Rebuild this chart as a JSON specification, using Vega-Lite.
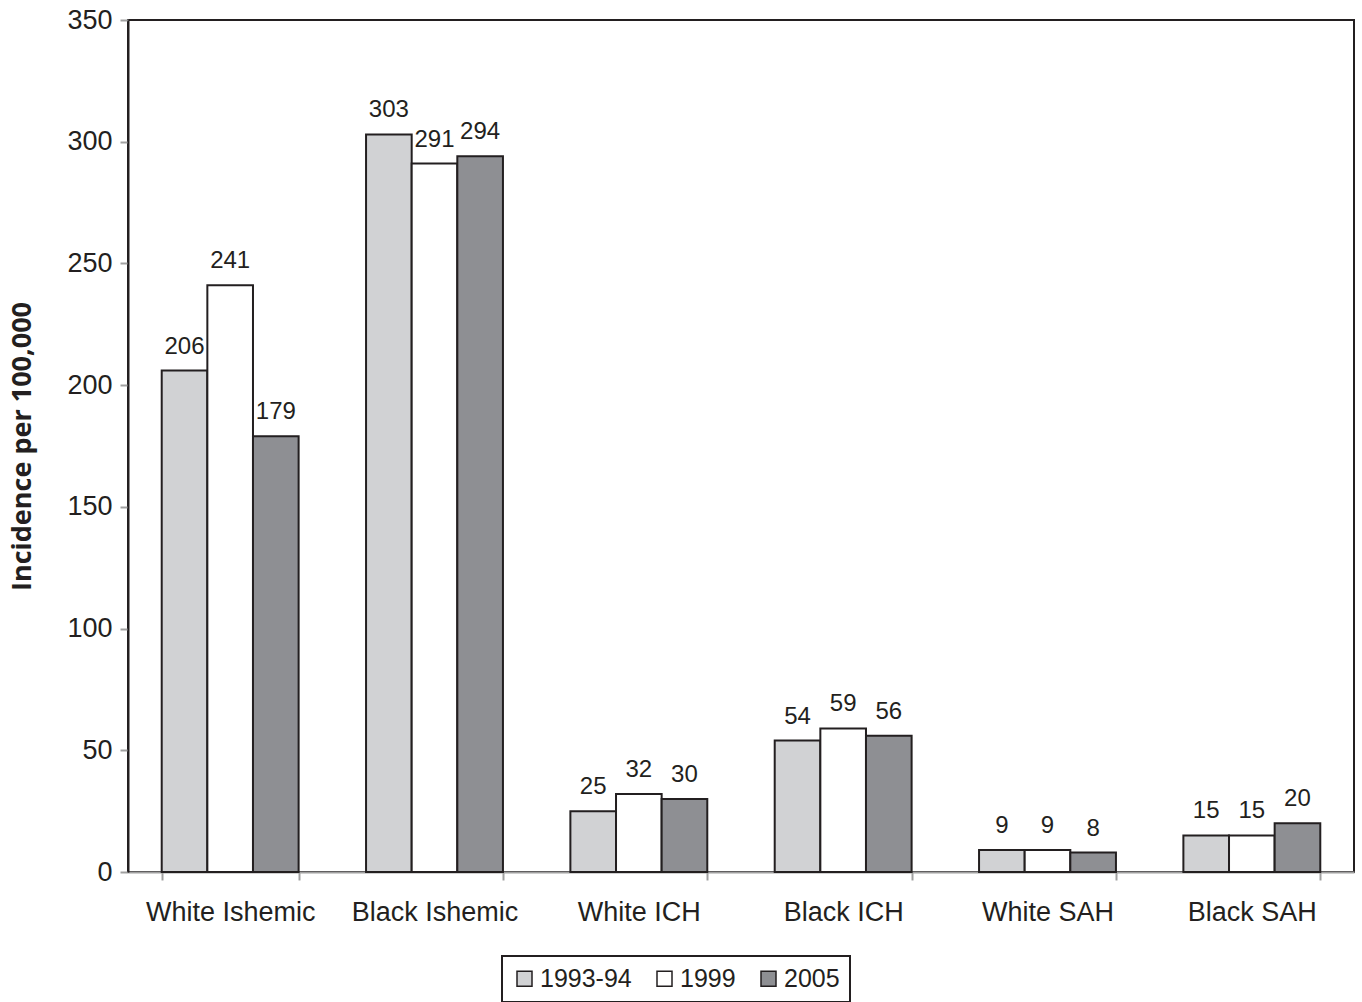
{
  "$schema": "https://vega.github.io/schema/vega-lite/v6.json",
  "width": 1226,
  "height": 852,
  "autosize": {"type": "none"},
  "padding": {"left": 128, "top": 20, "right": 8, "bottom": 130},
  "background": "white",
  "config": {
    "view": {"stroke": "#231f20", "strokeWidth": 2},
    "font": "Liberation Sans"
  },
  "data": {
    "values": [
      {"cat": "White Ishemic", "year": "1993-94", "v": 206},
      {"cat": "White Ishemic", "year": "1999", "v": 241},
      {"cat": "White Ishemic", "year": "2005", "v": 179},
      {"cat": "Black Ishemic", "year": "1993-94", "v": 303},
      {"cat": "Black Ishemic", "year": "1999", "v": 291},
      {"cat": "Black Ishemic", "year": "2005", "v": 294},
      {"cat": "White ICH", "year": "1993-94", "v": 25},
      {"cat": "White ICH", "year": "1999", "v": 32},
      {"cat": "White ICH", "year": "2005", "v": 30},
      {"cat": "Black ICH", "year": "1993-94", "v": 54},
      {"cat": "Black ICH", "year": "1999", "v": 59},
      {"cat": "Black ICH", "year": "2005", "v": 56},
      {"cat": "White SAH", "year": "1993-94", "v": 9},
      {"cat": "White SAH", "year": "1999", "v": 9},
      {"cat": "White SAH", "year": "2005", "v": 8},
      {"cat": "Black SAH", "year": "1993-94", "v": 15},
      {"cat": "Black SAH", "year": "1999", "v": 15},
      {"cat": "Black SAH", "year": "2005", "v": 20}
    ]
  },
  "encoding": {
    "x": {
      "field": "cat", "type": "nominal",
      "sort": ["White Ishemic", "Black Ishemic", "White ICH", "Black ICH", "White SAH", "Black SAH"],
      "scale": {"paddingInner": 0.33, "paddingOuter": 0.165},
      "axis": {
        "title": null, "labelAngle": 0, "labelFontSize": 27, "labelColor": "#231f20",
        "labelFont": "Liberation Sans",
        "domainColor": "#a0a0a0", "domainWidth": 2, "tickColor": "#a0a0a0", "tickWidth": 2,
        "tickSize": 8, "tickBand": "extent", "labelPadding": 19
      }
    },
    "xOffset": {"field": "year", "type": "nominal", "sort": ["1993-94", "1999", "2005"]},
    "y": {
      "field": "v", "type": "quantitative",
      "scale": {"domain": [0, 350], "nice": false},
      "axis": {
        "title": "Incidence per 100,000", "titleFont": "Open Sans", "titleFontWeight": "bold",
        "titleFontSize": 27, "titleColor": "#231f20", "titlePadding": 30,
        "values": [0, 50, 100, 150, 200, 250, 300, 350], "grid": false,
        "labelFont": "Liberation Sans",
        "labelFontSize": 27, "labelColor": "#231f20", "labelPadding": 8,
        "domainColor": "#231f20", "domainWidth": 2, "tickColor": "#a0a0a0", "tickWidth": 2, "tickSize": 8
      }
    }
  },
  "layer": [
    {
      "mark": {"type": "bar", "stroke": "#231f20", "strokeWidth": 2},
      "encoding": {
        "color": {
          "field": "year", "type": "nominal", "sort": ["1993-94", "1999", "2005"],
          "scale": {"domain": ["1993-94", "1999", "2005"], "range": ["#d1d2d4", "#ffffff", "#8e8f93"]},
          "legend": {
            "title": null, "orient": "none", "direction": "horizontal",
            "legendX": 374, "legendY": 936,
            "strokeColor": "#231f20", "padding": 10,
            "symbolType": "square", "symbolSize": 225, "symbolStrokeColor": "#231f20", "symbolStrokeWidth": 1.5,
            "labelFont": "Liberation Sans",
            "labelFontSize": 25, "labelColor": "#231f20", "columnPadding": 20, "labelOffset": 3,
            "encode": {"legend": {"update": {"strokeWidth": {"value": 2}}}}
          }
        }
      }
    },
    {
      "mark": {"type": "text", "baseline": "bottom", "dy": -12, "fontSize": 24, "font": "Liberation Sans", "color": "#231f20"},
      "encoding": {"text": {"field": "v", "type": "quantitative"}}
    }
  ]
}
